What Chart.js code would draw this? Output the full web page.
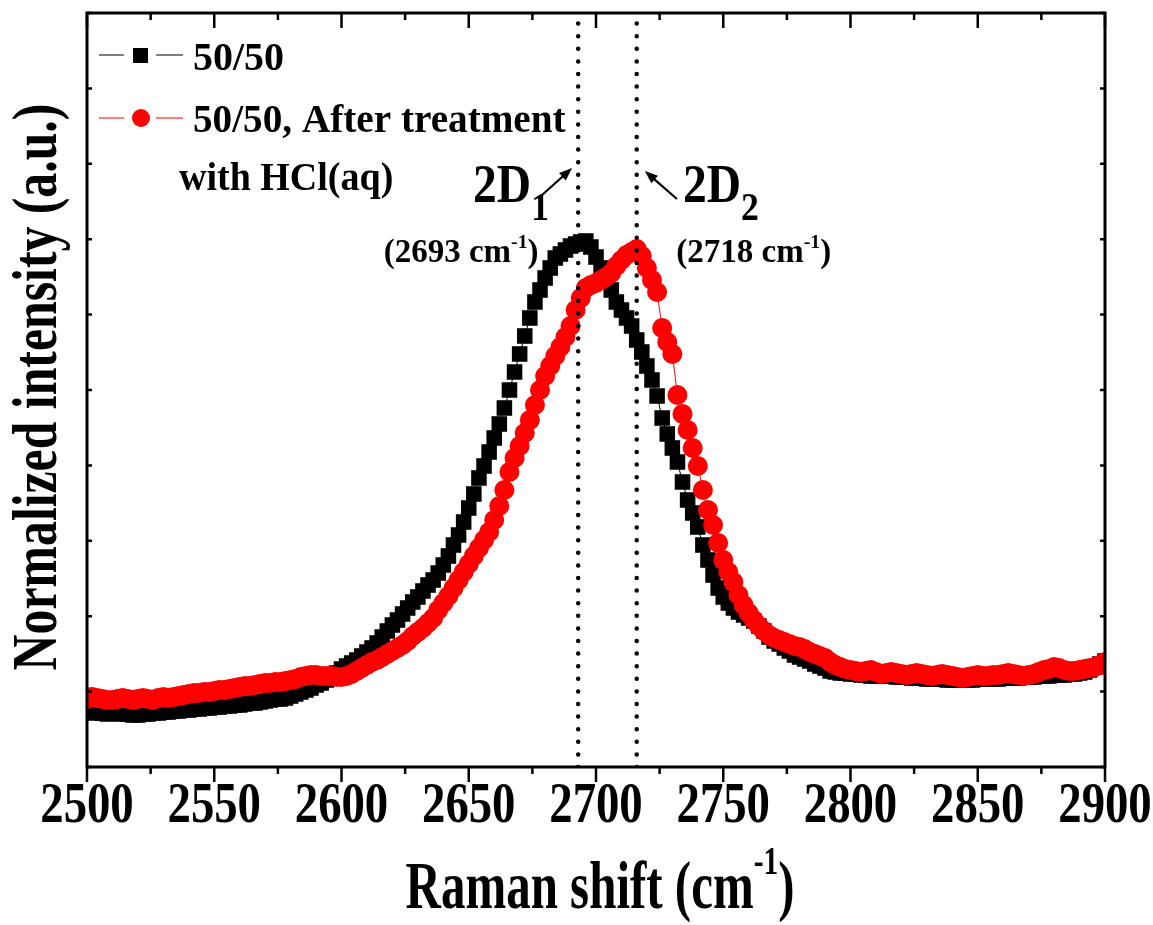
<!DOCTYPE html>
<html>
<head>
<meta charset="utf-8">
<script src="https://cdn.jsdelivr.net/npm/chart.js@4/dist/chart.umd.min.js"></script>
<style>
  html, body { margin: 0; padding: 0; background: #fff; }
  #wrap { width: 1153px; height: 925px; }
</style>
</head>
<body>
<div id="wrap"><canvas id="chart" width="1153" height="925"></canvas></div>
<script>
// Raman shift (cm-1), one point every 2 cm-1
const shift = [
  2500,2502,2504,2506,2508,2510,2512,2514,2516,2518,
  2520,2522,2524,2526,2528,2530,2532,2534,2536,2538,
  2540,2542,2544,2546,2548,2550,2552,2554,2556,2558,
  2560,2562,2564,2566,2568,2570,2572,2574,2576,2578,
  2580,2582,2584,2586,2588,2590,2592,2594,2596,2598,
  2600,2602,2604,2606,2608,2610,2612,2614,2616,2618,
  2620,2622,2624,2626,2628,2630,2632,2634,2636,2638,
  2640,2642,2644,2646,2648,2650,2652,2654,2656,2658,
  2660,2662,2664,2666,2668,2670,2672,2674,2676,2678,
  2680,2682,2684,2686,2688,2690,2692,2694,2696,2698,
  2700,2702,2704,2706,2708,2710,2712,2714,2716,2718,
  2720,2722,2724,2726,2728,2730,2732,2734,2736,2738,
  2740,2742,2744,2746,2748,2750,2752,2754,2756,2758,
  2760,2762,2764,2766,2768,2770,2772,2774,2776,2778,
  2780,2782,2784,2786,2788,2790,2792,2794,2796,2798,
  2800,2802,2804,2806,2808,2810,2812,2814,2816,2818,
  2820,2822,2824,2826,2828,2830,2832,2834,2836,2838,
  2840,2842,2844,2846,2848,2850,2852,2854,2856,2858,
  2860,2862,2864,2866,2868,2870,2872,2874,2876,2878,
  2880,2882,2884,2886,2888,2890,2892,2894,2896,2898,
  2900
];

// 50/50 (normalized intensity, arbitrary units)
const sample = [
  55,54,55,54,53,54,54,53,53,52,
  52,53,53,54,54,55,55,56,56,57,
  57,58,58,59,59,60,60,61,61,62,
  62,63,64,64,65,66,67,68,68,69,
  71,73,75,77,79,82,84,87,91,94,
  98,101,104,107,111,115,119,124,130,136,
  142,147,153,159,165,170,176,182,187,194,
  202,211,222,232,245,259,273,289,301,315,
  329,343,359,377,395,413,431,449,465,477,
  489,499,509,513,517,521,523,525,526,520,
  510,499,487,477,465,457,449,441,427,415,
  401,387,371,349,333,319,305,285,267,254,
  240,222,207,192,179,170,164,159,155,152,
  149,146,141,136,130,126,123,119,116,112,
  110,108,106,103,101,99,96,95,94,94,
  93,93,92,92,91,91,92,91,91,90,
  90,90,89,89,89,88,88,88,88,87,
  87,87,87,87,87,88,88,88,88,88,
  89,89,89,89,90,90,90,91,91,91,
  92,92,92,93,93,94,95,97,100,103,
  106
];

// 50/50 after treatment with HCl(aq)
const treated = [
  68,70,69,68,67,67,68,69,68,67,
  68,69,68,67,69,70,69,70,71,72,
  73,74,74,75,75,76,77,77,78,79,
  80,81,81,82,83,84,84,85,85,86,
  87,88,90,91,92,92,91,91,91,90,
  90,91,93,96,99,102,105,107,110,113,
  116,119,122,126,131,135,139,144,149,157,
  164,171,179,187,195,203,211,219,227,235,
  247,261,277,295,309,321,334,347,362,377,
  391,401,411,420,430,441,457,469,479,482,
  484,487,490,494,501,507,512,515,518,511,
  499,487,475,439,425,413,372,353,337,319,
  301,277,257,242,224,207,195,185,172,162,
  154,147,141,136,132,129,127,125,123,121,
  120,118,115,113,111,109,105,102,100,98,
  97,96,95,96,97,95,93,94,95,94,
  93,92,93,94,93,92,91,92,93,92,
  91,90,89,90,91,92,91,91,92,92,
  93,94,93,92,91,92,93,95,97,98,
  100,99,97,96,96,97,98,99,100,102,
  105
];

const peakLines = [2693, 2716];
const seriesNames = ['50/50', '50/50, After treatment', 'with HCl(aq)'];

const SERIF = '"Liberation Serif", "Times New Roman", serif';

function rich(ctx, parts, x, y, size, align, sx, rot) {
  ctx.save();
  ctx.translate(x, y);
  if (rot) ctx.rotate(rot);
  ctx.scale(sx, 1);
  ctx.textAlign = 'left';
  ctx.textBaseline = 'alphabetic';
  ctx.fillStyle = '#000';
  const segs = parts.map(p => {
    const s = p.r ? size * p.r : size;
    ctx.font = 'bold ' + s + 'px ' + SERIF;
    return { t: p.t, s: s, w: ctx.measureText(p.t).width, dy: p.dy || 0 };
  });
  const total = segs.reduce((a, g) => a + g.w, 0);
  let cx = align === 'center' ? -total / 2 : (align === 'right' ? -total : 0);
  segs.forEach(g => {
    ctx.font = 'bold ' + g.s + 'px ' + SERIF;
    ctx.fillText(g.t, cx, g.dy);
    cx += g.w;
  });
  ctx.restore();
}

function arrow(ctx, x1, y1, x2, y2) {
  const a = Math.atan2(y2 - y1, x2 - x1);
  const hl = 13, hw = 5;
  ctx.save();
  ctx.strokeStyle = '#000';
  ctx.fillStyle = '#000';
  ctx.lineWidth = 2.2;
  ctx.beginPath();
  ctx.moveTo(x1, y1);
  ctx.lineTo(x2 - hl * 0.8 * Math.cos(a), y2 - hl * 0.8 * Math.sin(a));
  ctx.stroke();
  ctx.beginPath();
  ctx.moveTo(x2, y2);
  ctx.lineTo(x2 - hl * Math.cos(a) + hw * Math.sin(a), y2 - hl * Math.sin(a) - hw * Math.cos(a));
  ctx.lineTo(x2 - hl * Math.cos(a) - hw * Math.sin(a), y2 - hl * Math.sin(a) + hw * Math.cos(a));
  ctx.closePath();
  ctx.fill();
  ctx.restore();
}

const decorations = {
  id: 'decorations',
  afterDraw(chart) {
    const ctx = chart.ctx;
    const xs = chart.scales.x, ys = chart.scales.y;
    const { left, right, top, bottom } = chart.chartArea;

    // frame
    ctx.save();
    ctx.strokeStyle = '#000';
    ctx.lineWidth = 3;
    ctx.strokeRect(left, top, right - left, bottom - top);

    // x ticks: out at bottom, in at top
    ctx.lineWidth = 2.5;
    xs.ticks.forEach(t => {
      const px = xs.getPixelForValue(t.value);
      const major = t.value % 50 === 0;
      const L = major ? 15 : 7;
      ctx.beginPath();
      ctx.moveTo(px, bottom); ctx.lineTo(px, bottom + L);
      ctx.moveTo(px, top); ctx.lineTo(px, top + L);
      ctx.stroke();
      if (major) rich(ctx, [{ t: String(t.value) }], px, 822, 57, 'center', 0.82);
    });
    // y ticks: short, inward on both sides
    ys.ticks.forEach(t => {
      const py = ys.getPixelForValue(t.value);
      ctx.beginPath();
      ctx.moveTo(left, py); ctx.lineTo(left + 5, py);
      ctx.moveTo(right, py); ctx.lineTo(right - 5, py);
      ctx.stroke();
    });
    ctx.restore();

    // axis titles
    rich(ctx, [{ t: 'Raman shift (cm' }, { t: '-1', r: 0.6, dy: -34 }, { t: ')' }],
      600, 908, 68, 'center', 0.72);
    rich(ctx, [{ t: 'Normalized intensity (a.u.)' }], 56, 387, 63, 'center', 0.79, -Math.PI / 2);

    // legend
    ctx.save();
    ctx.lineWidth = 1.2;
    ctx.strokeStyle = '#000';
    ctx.beginPath();
    ctx.moveTo(99, 55); ctx.lineTo(124, 55);
    ctx.moveTo(156, 55); ctx.lineTo(183, 55);
    ctx.stroke();
    ctx.fillStyle = '#000';
    ctx.fillRect(133, 48, 15, 15);
    ctx.strokeStyle = '#ff0000';
    ctx.beginPath();
    ctx.moveTo(99, 118); ctx.lineTo(124, 118);
    ctx.moveTo(156, 118); ctx.lineTo(183, 118);
    ctx.stroke();
    ctx.fillStyle = '#ff0000';
    ctx.beginPath();
    ctx.arc(141, 118, 9, 0, Math.PI * 2);
    ctx.fill();
    ctx.restore();
    rich(ctx, [{ t: seriesNames[0] }], 193, 70, 40, 'left', 1);
    rich(ctx, [{ t: seriesNames[1] }], 193, 132, 40, 'left', 0.98);
    rich(ctx, [{ t: seriesNames[2] }], 179, 190, 40, 'left', 0.95);

    // peak annotations
    const X = v => xs.getPixelForValue(v), Y = v => ys.getPixelForValue(v);
    rich(ctx, [{ t: '2D' }, { t: '1', r: 0.75, dy: 18 }], X(2651.7), Y(565), 54, 'left', 0.88);
    rich(ctx, [{ t: '2D' }, { t: '2', r: 0.75, dy: 18 }], X(2734.2), Y(565), 54, 'left', 0.88);
    rich(ctx, [{ t: '(2693 cm' }, { t: '-1', r: 0.6, dy: -14 }, { t: ')' }], X(2647), Y(505), 33, 'center', 1);
    rich(ctx, [{ t: '(2718 cm' }, { t: '-1', r: 0.6, dy: -14 }, { t: ')' }], X(2762), Y(505), 33, 'center', 1);
    arrow(ctx, X(2678.8), Y(572), X(2690.6), Y(599));
    arrow(ctx, X(2731.8), Y(568), X(2719.2), Y(596));
  }
};

const points = ys => shift.map((x, i) => ({ x: x, y: ys[i] }));

const datasets = [
  {
    label: seriesNames[1],
    data: points(treated),
    borderColor: '#ff0000',
    backgroundColor: '#ff0000',
    borderWidth: 1,
    pointStyle: 'circle',
    pointRadius: 10,
    pointBorderWidth: 0,
    order: 1,
    clip: 0
  },
  {
    label: seriesNames[0],
    data: points(sample),
    borderColor: '#000',
    backgroundColor: '#000',
    borderWidth: 1,
    pointStyle: 'rect',
    pointRadius: 11,
    pointBorderWidth: 0,
    order: 2,
    clip: 0
  }
].concat(peakLines.map(p => ({
  label: 'peak ' + p,
  data: [{ x: p, y: 0 }, { x: p, y: 754 }],
  borderColor: '#000',
  borderWidth: 4.5,
  borderDash: [0, 12.6],
  borderCapStyle: 'round',
  pointRadius: 0,
  order: 0
})));

new Chart(document.getElementById('chart'), {
  type: 'line',
  data: { datasets: datasets },
  options: {
    responsive: false,
    animation: false,
    events: [],
    layout: { padding: { top: 13, right: 48, left: 0, bottom: 0 } },
    plugins: { legend: { display: false }, tooltip: { enabled: false } },
    scales: {
      x: {
        type: 'linear',
        min: 2500,
        max: 2900,
        ticks: { display: false, stepSize: 25 },
        grid: { display: false },
        border: { display: false },
        afterFit: s => { s.height = 158; }
      },
      y: {
        min: 0,
        max: 754,
        ticks: { display: false, count: 11 },
        grid: { display: false },
        border: { display: false },
        afterFit: s => { s.width = 87; }
      }
    }
  },
  plugins: [decorations]
});
</script>
</body>
</html>
